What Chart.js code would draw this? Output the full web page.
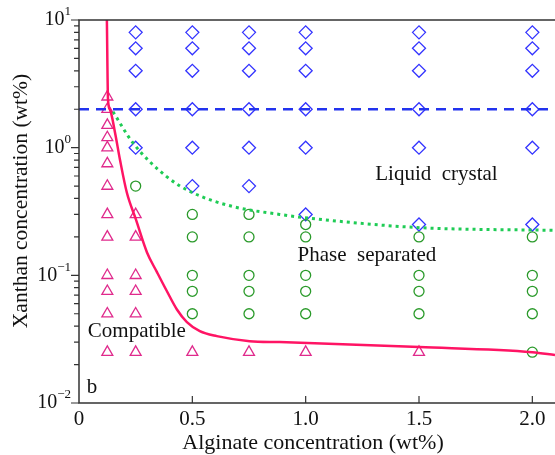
<!DOCTYPE html>
<html>
<head>
<meta charset="utf-8">
<script src="https://cdn.jsdelivr.net/npm/chart.js@4"></script>
<style>
  html, body { margin: 0; padding: 0; background: #fff; }
  #wrap { width: 555px; height: 455px; }
</style>
</head>
<body>
<div id="wrap"><canvas id="phase-chart" width="555" height="455"></canvas></div>
<script>
// compatible (triangles)
const compatX = [0.125,0.125,0.125,0.125,0.125,0.125,0.125,0.125,0.125,0.125,0.125,0.125,0.125,
                 0.25,0.25,0.25,0.25,0.25,0.25, 0.5, 0.75, 1.0, 1.5];
const compatY = [2.5,2.0,1.5,1.2,1.0,0.75,0.5,0.3,0.2,0.1,0.075,0.05,0.025,
                 0.3,0.2,0.1,0.075,0.05,0.025, 0.025, 0.025, 0.025, 0.025];
// phase separated (circles)
const phaseX = [0.25, 0.5,0.5,0.5,0.5,0.5, 0.75,0.75,0.75,0.75,0.75,
                1.0,1.0,1.0,1.0,1.0, 1.5,1.5,1.5,1.5, 2.0,2.0,2.0,2.0,2.0];
const phaseY = [0.5, 0.3,0.2,0.1,0.075,0.05, 0.3,0.2,0.1,0.075,0.05,
                0.25,0.2,0.1,0.075,0.05, 0.2,0.1,0.075,0.05, 0.2,0.1,0.075,0.05,0.025];
// liquid crystal (diamonds)
const lcX = [0.25,0.25,0.25,0.25,0.25, 0.5,0.5,0.5,0.5,0.5,0.5, 0.75,0.75,0.75,0.75,0.75,0.75,
             1.0,1.0,1.0,1.0,1.0,1.0, 1.5,1.5,1.5,1.5,1.5,1.5, 2.0,2.0,2.0,2.0,2.0,2.0];
const lcY = [8,6,4,2,1, 8,6,4,2,1,0.5, 8,6,4,2,1,0.5,
             8,6,4,2,1,0.3, 8,6,4,2,1,0.25, 8,6,4,2,1,0.25];
// boundary curves
const compatLineX = [0.123,0.128,0.137,0.159,0.181,0.211,0.251,0.300,0.344,0.388,0.432,
                     0.476,0.533,0.608,0.753,0.885,1.502,2.0,2.1];
const compatLineY = [10,2.37,1.98,1.31,0.80,0.445,0.274,0.151,0.106,0.075,0.054,
                     0.043,0.0365,0.0334,0.0305,0.030,0.0274,0.025,0.0238];
const lcLineX = [0.15,0.238,0.388,0.5,0.678,0.885,0.987,1.49,2.1];
const lcLineY = [1.91,1.09,0.59,0.445,0.346,0.30,0.284,0.237,0.225];
const lcLimitX = [0, 2.1];
const lcLimitY = [2, 2];

const xTicks = [0, 0.5, 1.0, 1.5, 2.0];
const xTickLabels = ['0', '0.5', '1.0', '1.5', '2.0'];
const yDecades = [0.01, 0.1, 1, 10];
const yDecadeExp = ['\u22122', '\u22121', '0', '1'];

const toPts = (xs, ys) => xs.map((x, i) => ({ x: x, y: ys[i] }));
const SERIF = '"Liberation Serif", "Times New Roman", serif';

const axesPlugin = {
  id: 'axesPlugin',
  afterDraw(chart) {
    const ctx = chart.ctx;
    const xs = chart.scales.x, ys = chart.scales.y;
    const a = chart.chartArea;
    ctx.save();
    ctx.strokeStyle = '#333';
    ctx.lineWidth = 1.5;
    ctx.beginPath();
    ctx.moveTo(a.right + 2, a.top); ctx.lineTo(a.left, a.top);
    ctx.lineTo(a.left, a.bottom); ctx.lineTo(a.right + 2, a.bottom);
    ctx.stroke();

    // y ticks (outward), major and minor
    ctx.lineWidth = 1.2;
    ctx.beginPath();
    for (let d = 0; d < yDecades.length; d++) {
      const base = yDecades[d];
      const py = ys.getPixelForValue(base);
      ctx.moveTo(a.left, py); ctx.lineTo(a.left - 8, py);
      if (d < yDecades.length - 1) {
        for (let m = 2; m <= 9; m++) {
          const p = ys.getPixelForValue(base * m);
          ctx.moveTo(a.left, p); ctx.lineTo(a.left - 5, p);
        }
      }
    }
    // x ticks (inward)
    xTicks.forEach(v => {
      if (v === 0) return;
      const px = xs.getPixelForValue(v);
      ctx.moveTo(px, a.bottom); ctx.lineTo(px, a.bottom - 7);
    });
    ctx.stroke();

    ctx.fillStyle = '#111';
    // x tick labels
    ctx.font = '21px ' + SERIF;
    ctx.textAlign = 'center';
    ctx.textBaseline = 'middle';
    xTicks.forEach((v, i) => {
      ctx.fillText(xTickLabels[i], xs.getPixelForValue(v), a.bottom + 16);
    });
    // y tick labels with superscript
    yDecades.forEach((v, i) => {
      const py = ys.getPixelForValue(v);
      ctx.font = '13px ' + SERIF;
      const ew = ctx.measureText(yDecadeExp[i]).width;
      ctx.textAlign = 'left';
      ctx.fillText(yDecadeExp[i], 71 - ew, py - 8);
      ctx.font = '20px ' + SERIF;
      ctx.textAlign = 'right';
      ctx.fillText('10', 71 - ew, py);
    });

    // axis titles
    ctx.font = '22px ' + SERIF;
    ctx.textAlign = 'center';
    ctx.fillText('Alginate concentration (wt%)', 313, 443);
    ctx.save();
    ctx.translate(21, 201);
    ctx.rotate(-Math.PI / 2);
    ctx.font = '21.5px ' + SERIF;
    ctx.fillText('Xanthan concentration (wt%)', 0, 0);
    ctx.restore();

    // region labels
    ctx.font = '21px ' + SERIF;
    ctx.fillText('Liquid  crystal', xs.getPixelForValue(1.577), ys.getPixelForValue(0.615));
    ctx.fillText('Phase  separated', xs.getPixelForValue(1.27), ys.getPixelForValue(0.143));
    ctx.fillText('Compatible', xs.getPixelForValue(0.255), ys.getPixelForValue(0.0365));
    ctx.fillText('b', xs.getPixelForValue(0.057), ys.getPixelForValue(0.0132));
    ctx.restore();
  }
};

const config = {
  type: 'scatter',
  data: {
    datasets: [
      {
        label: 'compatible boundary',
        data: toPts(compatLineX, compatLineY),
        showLine: true,
        borderColor: '#ff1464',
        borderWidth: 2.5,
        pointRadius: 0,
        cubicInterpolationMode: 'monotone',
      },
      {
        label: 'liquid crystal boundary',
        data: toPts(lcLineX, lcLineY),
        showLine: true,
        borderColor: '#1fcc55',
        borderWidth: 3,
        borderDash: [3, 4],
        pointRadius: 0,
        cubicInterpolationMode: 'monotone',
      },
      {
        label: 'liquid crystal limit',
        data: toPts(lcLimitX, lcLimitY),
        showLine: true,
        borderColor: '#2233ee',
        borderWidth: 2.5,
        borderDash: [10, 7],
        pointRadius: 0,
      },
      {
        label: 'Compatible',
        data: toPts(compatX, compatY),
        pointStyle: 'triangle',
        pointRadius: 6.3,
        pointBorderWidth: 1.3,
        borderColor: '#e02a8c',
        backgroundColor: 'rgba(0,0,0,0)',
      },
      {
        label: 'Phase separated',
        data: toPts(phaseX, phaseY),
        pointStyle: 'circle',
        pointRadius: 5,
        pointBorderWidth: 1.3,
        borderColor: '#2a9a2a',
        backgroundColor: 'rgba(0,0,0,0)',
      },
      {
        label: 'Liquid crystal',
        data: toPts(lcX, lcY),
        pointStyle: 'rectRot',
        pointRadius: 6.5,
        pointBorderWidth: 1.3,
        borderColor: '#3333ff',
        backgroundColor: 'rgba(0,0,0,0)',
      },
    ],
  },
  options: {
    responsive: false,
    animation: false,
    events: [],
    layout: { autoPadding: false, padding: { top: 20, right: 0, left: 0, bottom: 0 } },
    plugins: {
      legend: { display: false },
      tooltip: { enabled: false },
    },
    scales: {
      x: {
        type: 'linear',
        min: 0,
        max: 2.1,
        grid: { display: false },
        border: { display: false },
        ticks: { display: false },
        afterFit: (s) => { s.height = 52; },
      },
      y: {
        type: 'logarithmic',
        min: 0.01,
        max: 10,
        grid: { display: false },
        border: { display: false },
        ticks: { display: false },
        afterFit: (s) => { s.width = 79; },
      },
    },
  },
  plugins: [axesPlugin],
};

const canvas = document.getElementById('phase-chart');
if (canvas) {
  window.myChart = new Chart(canvas.getContext('2d'), config);
}
</script>
</body>
</html>
